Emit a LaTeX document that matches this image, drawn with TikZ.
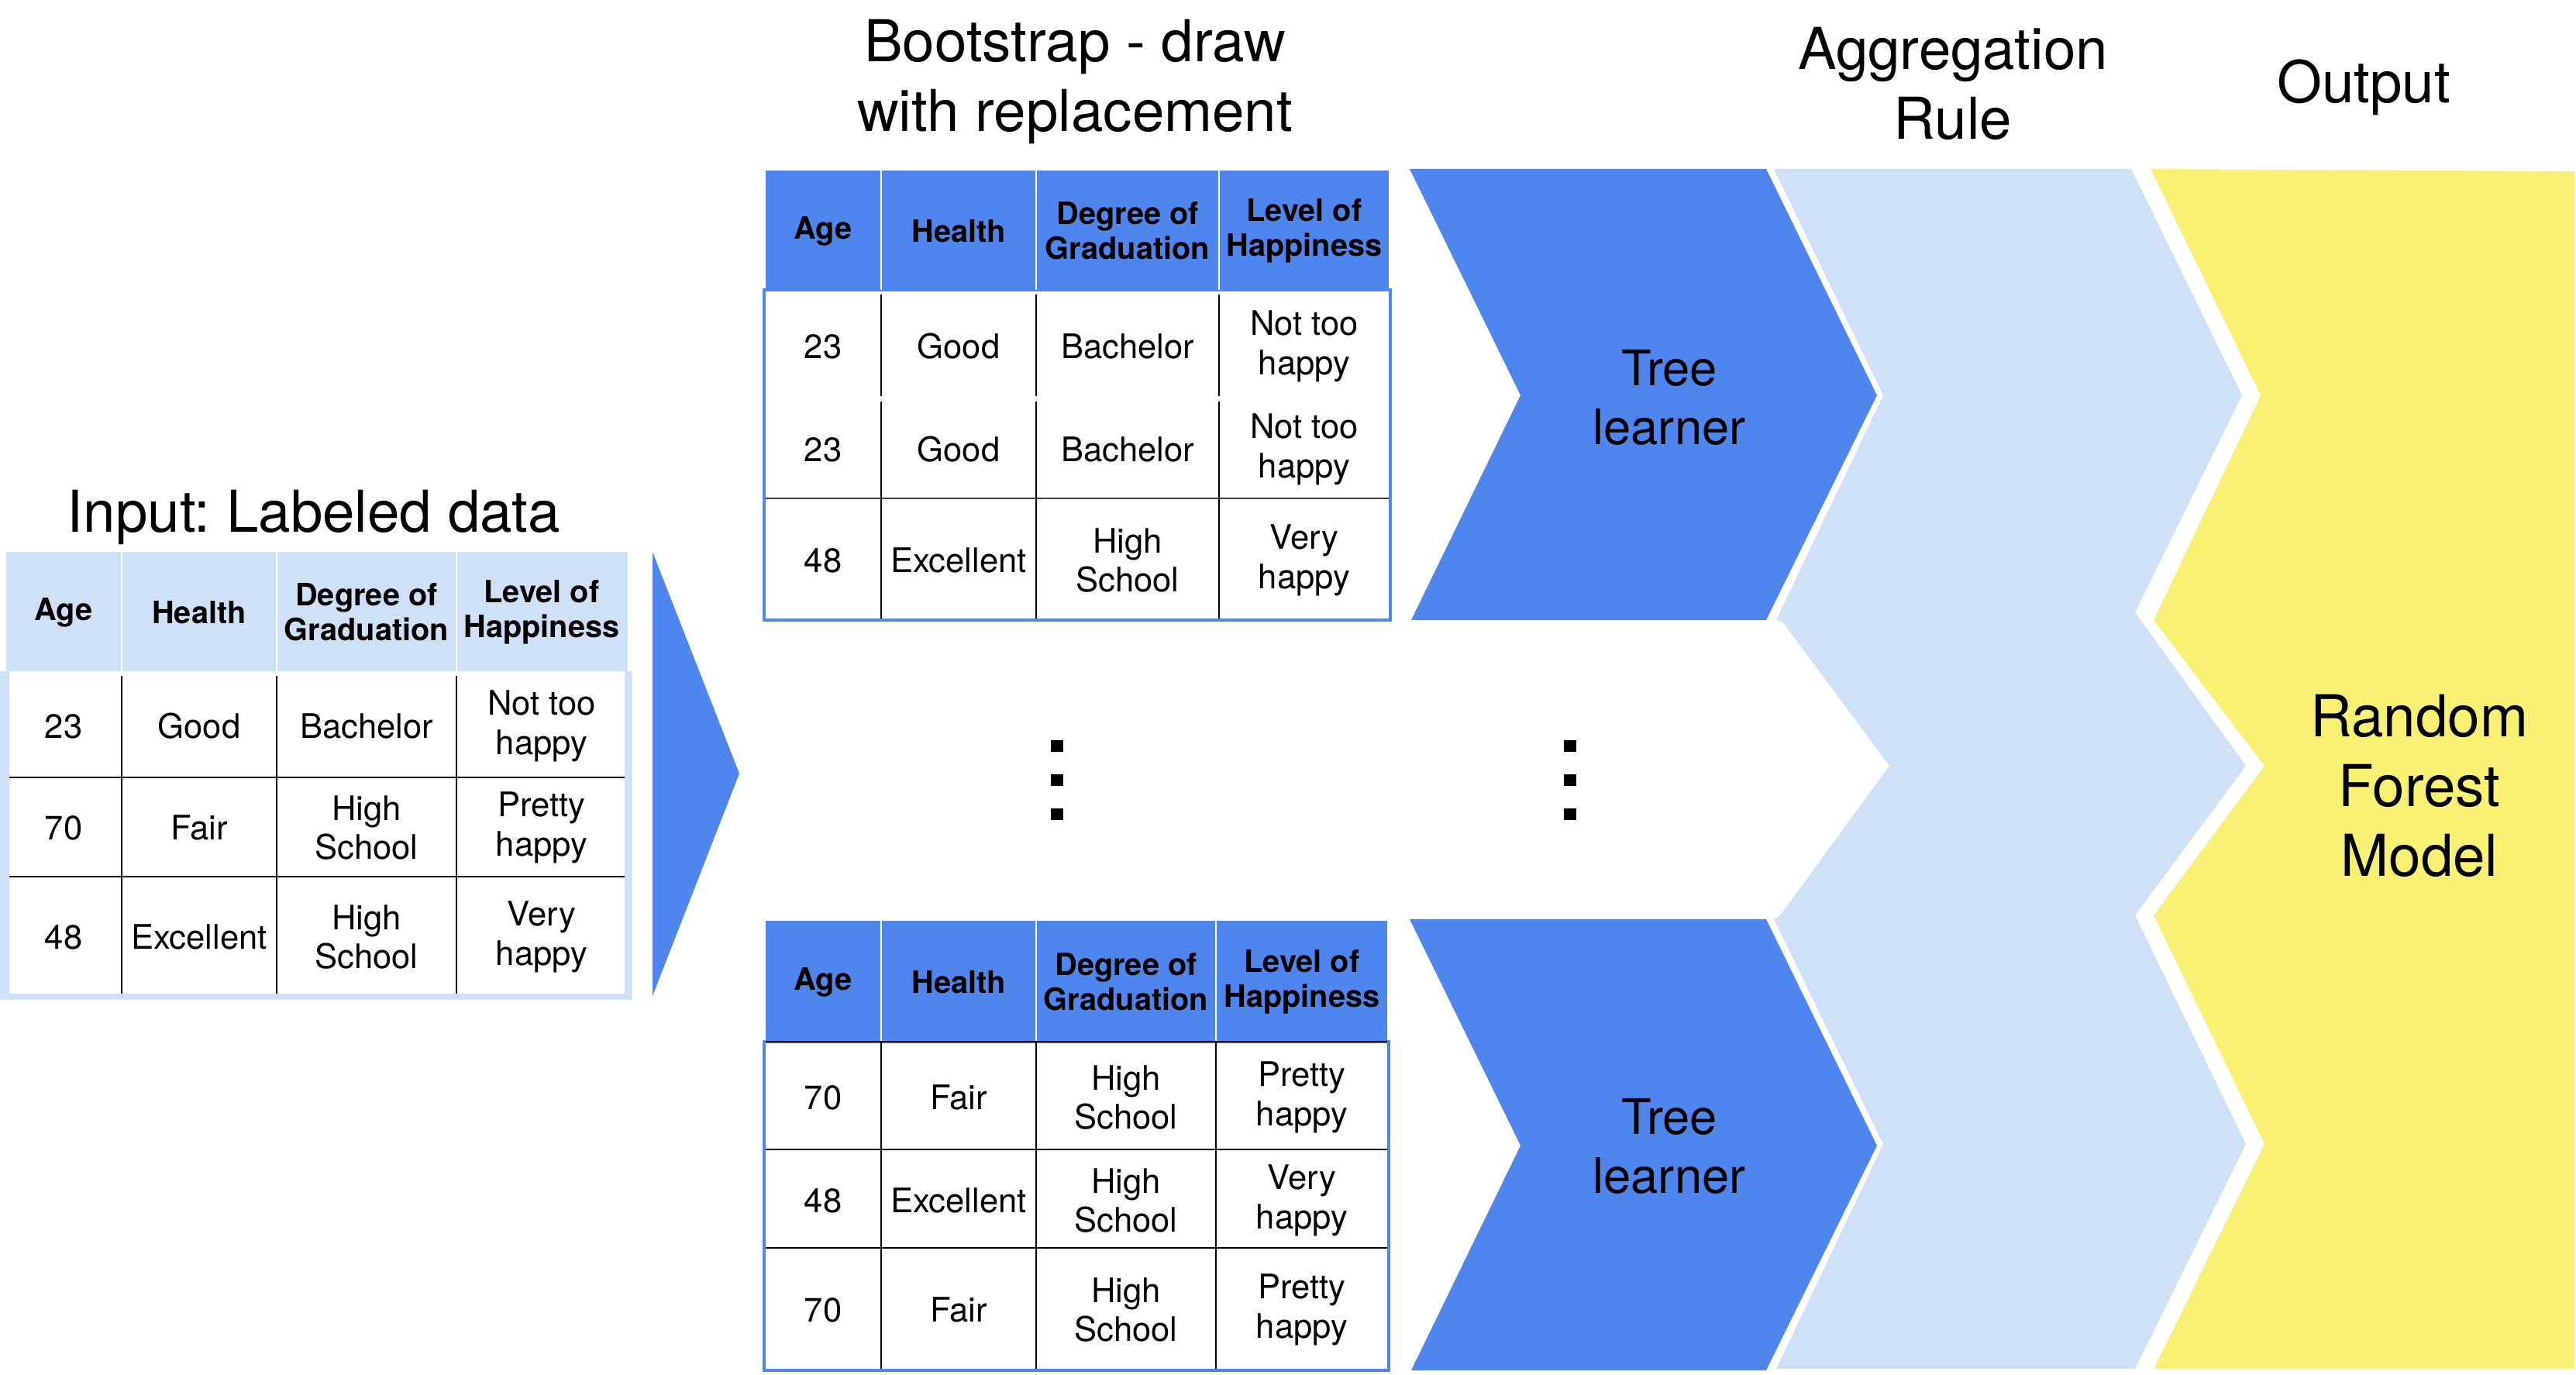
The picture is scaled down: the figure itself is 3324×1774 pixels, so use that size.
\documentclass[tikz,border=0pt]{standalone}
\usepackage{fontspec}
\setmainfont{TeX Gyre Heros}
\frenchspacing
\definecolor{learnblue}{RGB}{79,134,238}
\definecolor{paleblue}{RGB}{206,225,248}
\definecolor{outyellow}{RGB}{249,240,116}

\begin{document}
\begin{tikzpicture}
      [
        x=0.1mm, y=-0.1mm,
        heading/.style={font=\fontsize{21.2}{25.6}\selectfont, align=center, inner sep=0pt},
        colhead/.style={font=\bfseries\fontsize{11.3}{12.8}\selectfont, align=center, inner sep=0pt},
        entry/.style={font=\fontsize{12.4}{14.5}\selectfont, align=center, inner sep=0pt},
        learner/.style={font=\fontsize{18}{21.6}\selectfont, align=center, inner sep=0pt},
        rule/.style={line width=0.25mm}
      ]
      \useasboundingbox (0,0) rectangle (3324,1774);
      % input table
      \fill[paleblue] (8,712) rectangle (810,866);
      \fill[paleblue] (0,866) rectangle (816,1290);
      \fill[white] (12,866) rectangle (806,1282);
      \foreach \x in {157,357,589} {
          \draw[white, line width=0.2mm] (\x,712) -- (\x,866);
          \draw[rule] (\x,872) -- (\x,1282);
      }
      \foreach \y in {1003,1131} {
          \draw[rule] (12,\y) -- (806,\y);
      }
      % input arrow
      \fill[learnblue] (842,712) -- (954,998) -- (842,1285) -- cycle;
      % first bootstrap sample
      \fill[learnblue] (988,220) rectangle (1792,374);
      \draw[learnblue, line width=0.4mm] (986,374) rectangle (1794,800);
      \foreach \x in {1137,1337,1573} {
          \draw[white, line width=0.2mm] (\x,220) -- (\x,374);
          \draw[rule] (\x,380) -- (\x,511);
          \draw[rule] (\x,518) -- (\x,798);
      }
      \draw[rule, black!75] (988,643) -- (1792,643);
      % last bootstrap sample
      \fill[learnblue] (988,1188) rectangle (1790,1344);
      \draw[learnblue, line width=0.4mm] (986,1344) rectangle (1792,1768);
      \foreach \x in {1137,1337,1569} {
          \draw[white, line width=0.2mm] (\x,1188) -- (\x,1344);
          \draw[rule] (\x,1344) -- (\x,1766);
      }
      \foreach \y in {1344,1483,1610} {
          \draw[rule] (988,\y) -- (1790,\y);
      }
      % tree learners
      \foreach \s in {0,968} {
          \fill[learnblue] (1819,218+\s) -- (2279,218+\s) -- (2422,510+\s) -- (2279,800+\s)
            -- (1821,800+\s) -- (1962,510+\s) -- cycle;
      }
      % aggregation
      \fill[paleblue] (2289,218) -- (2430,510) -- (2292,800) -- (2300,802) -- (2438,988)
        -- (2297,1181) -- (2289,1186) -- (2430,1476) -- (2292,1766) -- (2755,1766)
        -- (2898,1476) -- (2755,1181) -- (2898,988) -- (2755,790) -- (2893,510)
        -- (2750,218) -- cycle;
      % output
      \fill[outyellow] (2775,218) -- (2917,510) -- (2779,800) -- (2922,988) -- (2779,1181)
        -- (2922,1476) -- (2779,1766) -- (3322,1766) -- (3322,221) -- cycle;
      % dots
      \foreach \x in {1364,2026} {
          \foreach \y in {962,1006,1050} {
              \fill (\x-8,\y-7) rectangle (\x+8,\y+8);
          }
      }
      % headings
      \node [heading, anchor=base] (input) at (405,687) {Input: Labeled data};
      \node [heading] (boot) at (1387,105) {Bootstrap - draw\\with replacement};
      \node [heading] (aggr) at (2520,108) {Aggregation\\Rule};
      \node [heading, anchor=base] (out) at (3050,133) {Output};
      \node [learner] (tree1) at (2154,513) {Tree\\learner};
      \node [learner] (tree2) at (2154,1479) {Tree\\learner};
      \node [heading] (forest) at (3122,1014) {Random\\Forest\\Model};
      % column heads
      \foreach \xa/\xb/\xc/\xd/\y/\n in {82/257/473/699/790/in, 1062/1237/1455/1683/298/top,
                                         1062/1237/1453/1680/1267/bot} {
          \node [colhead] (\n-age) at (\xa,\y) {Age};
          \node [colhead] (\n-health) at (\xb,\y) {Health};
          \node [colhead] (\n-degree) at (\xc,\y) {Degree of\\Graduation};
          \node [colhead] (\n-level) at (\xd,\y) {Level of\\Happiness};
      }
      % input rows
      \foreach \y/\age/\hlth/\grad/\happ [count=\r] in {
          937/23/Good/Bachelor/{Not too\\happy},
          1068/70/Fair/{High\\School}/{Pretty\\happy},
          1209/48/Excellent/{High\\School}/{Very\\happy}} {
          \node [entry] (in-\r-1) at (82,\y) {\age};
          \node [entry] (in-\r-2) at (257,\y) {\hlth};
          \node [entry] (in-\r-3) at (473,\y) {\grad};
          \node [entry] (in-\r-4) at (699,\y) {\happ};
      }
      % first sample rows
      \foreach \y/\age/\hlth/\grad/\happ [count=\r] in {
          447/23/Good/Bachelor/{Not too\\happy},
          580/23/Good/Bachelor/{Not too\\happy},
          723/48/Excellent/{High\\School}/{Very\\happy}} {
          \node [entry] (top-\r-1) at (1062,\y) {\age};
          \node [entry] (top-\r-2) at (1237,\y) {\hlth};
          \node [entry] (top-\r-3) at (1455,\y) {\grad};
          \node [entry] (top-\r-4) at (1683,\y) {\happ};
      }
      % last sample rows
      \foreach \y/\age/\hlth/\grad/\happ [count=\r] in {
          1416/70/Fair/{High\\School}/{Pretty\\happy},
          1549/48/Excellent/{High\\School}/{Very\\happy},
          1690/70/Fair/{High\\School}/{Pretty\\happy}} {
          \node [entry] (bot-\r-1) at (1062,\y) {\age};
          \node [entry] (bot-\r-2) at (1237,\y) {\hlth};
          \node [entry] (bot-\r-3) at (1453,\y) {\grad};
          \node [entry] (bot-\r-4) at (1680,\y) {\happ};
      }
\end{tikzpicture}
\end{document}
